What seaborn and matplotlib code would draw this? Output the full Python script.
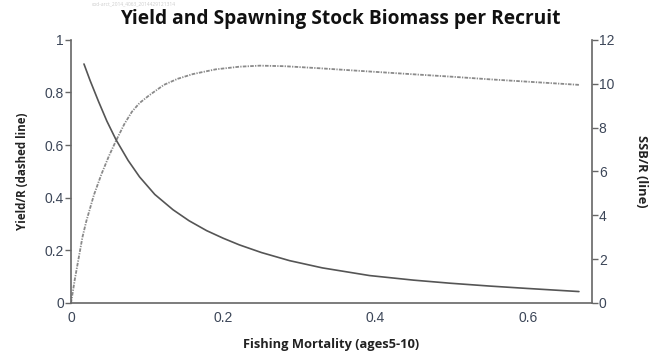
import matplotlib
matplotlib.use("Agg")
import matplotlib.pyplot as plt
import seaborn as sns
import pandas as pd

# Yield per recruit (dashed line, left axis)
f_yield = [0, 0.005, 0.01, 0.015, 0.02, 0.03, 0.04, 0.05, 0.059, 0.07, 0.08, 0.09,
           0.103, 0.122, 0.14, 0.16, 0.19, 0.221, 0.248, 0.28, 0.327, 0.38, 0.445,
           0.5, 0.55, 0.6, 0.667]
yield_r = [0, 0.09, 0.17, 0.25, 0.31, 0.41, 0.49, 0.56, 0.616, 0.68, 0.727, 0.76,
           0.79, 0.829, 0.852, 0.87, 0.888, 0.898, 0.902, 0.90, 0.892, 0.882, 0.87,
           0.86, 0.85, 0.841, 0.829]

# Spawning stock biomass per recruit (solid line, right axis)
f_ssb = [0.017, 0.025, 0.036, 0.047, 0.059, 0.075, 0.09, 0.11, 0.134, 0.155, 0.178,
         0.2, 0.221, 0.25, 0.287, 0.33, 0.392, 0.45, 0.498, 0.55, 0.6, 0.667]
ssb_r = [10.9, 10.15, 9.2, 8.3, 7.45, 6.5, 5.75, 4.95, 4.25, 3.75, 3.3, 2.95, 2.65,
         2.3, 1.93, 1.6, 1.25, 1.04, 0.90, 0.77, 0.66, 0.52]

x_ticks = [0, 0.2, 0.4, 0.6]
x_labels = ["0", "0.2", "0.4", "0.6"]
yl_ticks = [0, 0.2, 0.4, 0.6, 0.8, 1]
yl_labels = ["0", "0.2", "0.4", "0.6", "0.8", "1"]
yr_ticks = [0, 2, 4, 6, 8, 10, 12]
yr_labels = ["0", "2", "4", "6", "8", "10", "12"]

sns.set_style("white")
plt.rcParams["font.family"] = ["Open Sans", "DejaVu Sans"]

fig = plt.figure(figsize=(6.54, 3.56), dpi=100)
ax = fig.add_axes([0.1086, 0.149, 0.7964, 0.739])
ax2 = ax.twinx()

df_y = pd.DataFrame({"F": f_yield, "Y": yield_r})
df_s = pd.DataFrame({"F": f_ssb, "S": ssb_r})

sns.lineplot(data=df_y, x="F", y="Y", ax=ax, color="#8a8a8a", lw=1.3,
             dashes=False, legend=False)
ax.lines[0].set_dashes([2.0, 0.7, 0.7, 0.7])
sns.lineplot(data=df_s, x="F", y="S", ax=ax2, color="#555555", lw=1.2, legend=False)

spine_col = "#666666"
tick_col = "#3c4658"
ax.set_xlim(0, 0.684)
ax.set_ylim(0, 1)
ax2.set_ylim(0, 12)
ax.set_xticks(x_ticks)
ax.set_xticklabels(x_labels)
ax.set_yticks(yl_ticks)
ax.set_yticklabels(yl_labels)
ax2.set_yticks(yr_ticks)
ax2.set_yticklabels(yr_labels)

for a in (ax, ax2):
    for s in a.spines.values():
        s.set_color(spine_col)
        s.set_linewidth(1.2)
    a.spines["top"].set_visible(False)
    a.tick_params(colors=spine_col, labelcolor=tick_col, labelsize=10,
                  length=4, width=1, direction="out")
    for lab in a.get_xticklabels() + a.get_yticklabels():
        lab.set_family(["Liberation Sans Narrow", "Liberation Sans", "DejaVu Sans"])
ax.tick_params(axis="x", length=3, pad=3)
ax.tick_params(axis="y", pad=1)
ax2.tick_params(axis="y", pad=1)
ax.spines["right"].set_visible(False)
ax2.spines["left"].set_visible(False)
ax2.spines["bottom"].set_visible(False)

ax.set_xlabel("Fishing Mortality (ages5-10)", fontsize=9.3, fontweight="bold",
              color="#222222", labelpad=9)
ax.set_ylabel("Yield/R (dashed line)", fontsize=8.3, fontweight="bold",
              color="#222222", labelpad=11)
ax2.set_ylabel("SSB/R (line)", fontsize=9.3, fontweight="bold", color="#222222",
               rotation=-90, labelpad=24)

fig.text(0.52, 0.947, "Yield and Spawning Stock Biomass per Recruit",
         ha="center", va="center", fontsize=13.8, fontweight="bold", color="#111111")
fig.text(0.14, 0.99, "cod-arct_2014_4063_2014429121314", ha="left", va="center",
         fontsize=3.5, color="#cccccc")

fig.savefig("out.png", dpi=100)
